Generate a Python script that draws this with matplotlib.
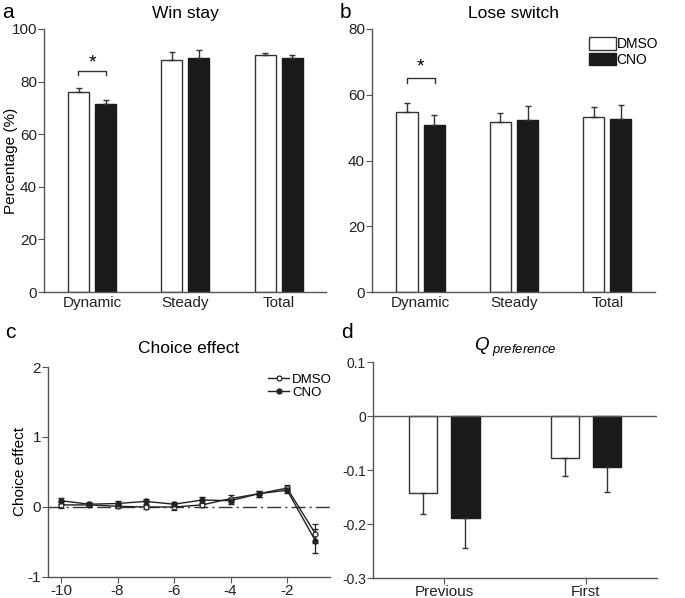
import numpy as np
import matplotlib
matplotlib.use("Agg")
import matplotlib.pyplot as plt
from matplotlib.patches import Patch
from matplotlib.lines import Line2D

plt.rcParams["font.family"] = ["Liberation Sans", "DejaVu Sans"]
plt.rcParams["mathtext.fontset"] = "custom"
plt.rcParams["mathtext.it"] = "Liberation Sans:italic"
plt.rcParams["mathtext.rm"] = "Liberation Sans"

# ---------------------------------------------------------------------------
# data
# ---------------------------------------------------------------------------
groups = ["Dynamic", "Steady", "Total"]

win_dmso = [76.0, 88.2, 90.0]
win_dmso_err = [1.5, 3.0, 0.7]
win_cno = [71.6, 89.0, 89.1]
win_cno_err = [1.3, 3.2, 1.2]

lose_dmso = [54.8, 51.6, 53.3]
lose_dmso_err = [2.6, 2.7, 3.0]
lose_cno = [50.8, 52.2, 52.7]
lose_cno_err = [2.9, 4.4, 4.1]

lags = [-10, -9, -8, -7, -6, -5, -4, -3, -2, -1]
choice_dmso = [0.03, 0.03, 0.01, 0.00, 0.00, 0.03, 0.12, 0.19, 0.27, -0.38]
choice_dmso_err = [0.04, 0.03, 0.03, 0.03, 0.04, 0.03, 0.05, 0.04, 0.04, 0.14]
choice_cno = [0.09, 0.04, 0.05, 0.08, 0.04, 0.10, 0.09, 0.19, 0.24, -0.48]
choice_cno_err = [0.04, 0.03, 0.04, 0.04, 0.03, 0.04, 0.04, 0.04, 0.04, 0.17]

q_groups = ["Previous", "First"]
q_dmso = [-0.142, -0.077]
q_dmso_err = [0.040, 0.034]
q_cno = [-0.188, -0.094]
q_cno_err = [0.057, 0.047]

W, H = 685, 598
fig = plt.figure(figsize=(W / 100, H / 100), dpi=100)


def px_axes(x0, y0, x1, y1):
    """Axes from pixel box (left, top, right, bottom)."""
    return fig.add_axes([x0 / W, (H - y1) / H, (x1 - x0) / W, (y1 - y0) / H])


SPINE = "#555555"
INK = "#222222"


def style(ax):
    for s in ("top", "right"):
        ax.spines[s].set_visible(False)
    for s in ("left", "bottom"):
        ax.spines[s].set_color(SPINE)
        ax.spines[s].set_linewidth(1.0)
    ax.tick_params(labelcolor=INK, labelsize=11, direction="out", length=4,
                   width=0.8, color=SPINE, pad=1)


def bar_panel(ax, dmso, dmso_err, cno, cno_err, ylim, yticks, title):
    x = np.arange(len(groups))
    off, w = 0.145, 0.226
    ax.bar(x - off, dmso, w, color="white", edgecolor="#333333", linewidth=1.0)
    ax.bar(x + off, cno, w, color="#1a1a1a", edgecolor="#1a1a1a", linewidth=1.0)
    ax.errorbar(x - off, dmso, yerr=[np.zeros(3), dmso_err], fmt="none",
                ecolor="#333333", elinewidth=1.0, capsize=2.5, capthick=1.0)
    ax.errorbar(x + off, cno, yerr=[np.zeros(3), cno_err], fmt="none",
                ecolor="#333333", elinewidth=1.0, capsize=2.5, capthick=1.0)
    ax.set_xlim(-0.52, 2.51)
    ax.set_ylim(*ylim)
    ax.set_yticks(yticks)
    ax.set_xticks(x)
    ax.set_xticklabels(groups)
    ax.set_title(title, fontsize=12.5, pad=8)
    style(ax)
    ax.tick_params(axis="x", length=0, pad=3)


def sig(ax, x0, x1, y, drop, star_y):
    ax.plot([x0, x0, x1, x1], [y - drop, y, y, y - drop], color="#333333", lw=1.0)
    ax.text((x0 + x1) / 2, star_y, "*", ha="center", va="center", fontsize=14)


# ---------------------------------------------------------------------------
# a: Win stay
# ---------------------------------------------------------------------------
ax_a = px_axes(44, 29, 326, 292)
bar_panel(ax_a, win_dmso, win_dmso_err, win_cno, win_cno_err,
          (0, 100), [0, 20, 40, 60, 80, 100], "Win stay")
sig(ax_a, -0.15, 0.15, 84, 1.5, 87)
ax_a.set_ylabel("Percentage (%)", fontsize=11)
ax_a.yaxis.set_label_coords(-0.092, 0.5)

# ---------------------------------------------------------------------------
# b: Lose switch
# ---------------------------------------------------------------------------
ax_b = px_axes(372, 29, 655, 292)
bar_panel(ax_b, lose_dmso, lose_dmso_err, lose_cno, lose_cno_err,
          (0, 80), [0, 20, 40, 60, 80], "Lose switch")
sig(ax_b, -0.15, 0.15, 65, 1.5, 68.5)
bar_handles = [Patch(facecolor="white", edgecolor="#333333", lw=1.0),
               Patch(facecolor="#1a1a1a", edgecolor="#1a1a1a", lw=1.0)]
ax_b.legend(bar_handles, ["DMSO", "CNO"], loc="upper right",
            bbox_to_anchor=(1.04, 1.0), frameon=False, fontsize=10,
            handlelength=1.9, handleheight=1.0, handletextpad=0.05,
            labelspacing=0.1, borderaxespad=0.2)

# ---------------------------------------------------------------------------
# c: Choice effect
# ---------------------------------------------------------------------------
ax_c = px_axes(48, 367, 330, 577)
ax_c.axhline(0, color="#333333", lw=1.0, ls=(0, (10, 3, 1.5, 3)))
ax_c.errorbar(lags, choice_dmso, yerr=choice_dmso_err, color=INK,
              lw=1.0, marker="o", ms=3.5, mfc="white", mec=INK,
              mew=0.9, capsize=2.5, elinewidth=0.9)
ax_c.errorbar(lags, choice_cno, yerr=choice_cno_err, color=INK,
              lw=1.0, marker="o", ms=3.5, mfc=INK, mec=INK,
              capsize=2.5, elinewidth=0.9)
ax_c.set_xlim(-10.46, -0.48)
ax_c.set_ylim(-1, 2)
ax_c.set_xticks([-10, -8, -6, -4, -2])
ax_c.set_yticks([-1, 0, 1, 2])
ax_c.set_xticklabels(["-10", "-8", "-6", "-4", "-2"])
ax_c.set_yticklabels(["-1", "0", "1", "2"])
ax_c.set_title("Choice effect", fontsize=12.5, pad=10)
ax_c.set_ylabel("Choice effect", fontsize=11)
ax_c.yaxis.set_label_coords(-0.075, 0.5)
style(ax_c)
ax_c.tick_params(axis="x", pad=1)
line_handles = [Line2D([], [], color=INK, lw=1.0, marker="o", ms=3.5,
                       mfc="white", mec=INK, mew=0.9),
                Line2D([], [], color=INK, lw=1.0, marker="o", ms=3.5,
                       mfc=INK, mec=INK)]
ax_c.legend(line_handles, ["DMSO", "CNO"], loc="upper right",
            bbox_to_anchor=(1.03, 1.0), frameon=False, fontsize=9.5,
            handlelength=1.6, handletextpad=0.2, labelspacing=0.05,
            borderaxespad=0.1)

# ---------------------------------------------------------------------------
# d: Q preference
# ---------------------------------------------------------------------------
ax_d = px_axes(373, 362, 657, 578)
xd = np.arange(len(q_groups))
ax_d.bar(xd - 0.15, q_dmso, 0.2, color="white", edgecolor="#333333", linewidth=1.0)
ax_d.bar(xd + 0.15, q_cno, 0.2, color="#1a1a1a", edgecolor="#1a1a1a", linewidth=1.0)
ax_d.errorbar(xd - 0.15, q_dmso, yerr=[q_dmso_err, np.zeros(2)], fmt="none",
              ecolor="#333333", elinewidth=1.0, capsize=2.5, capthick=1.0)
ax_d.errorbar(xd + 0.15, q_cno, yerr=[q_cno_err, np.zeros(2)], fmt="none",
              ecolor="#333333", elinewidth=1.0, capsize=2.5, capthick=1.0)
ax_d.axhline(0, color=SPINE, lw=1.0)
ax_d.set_xlim(-0.5, 1.5)
ax_d.set_ylim(-0.3, 0.1)
ax_d.set_yticks([-0.3, -0.2, -0.1, 0, 0.1])
ax_d.set_yticklabels(["-0.3", "-0.2", "-0.1", "0", "0.1"])
ax_d.set_xticks(xd)
ax_d.set_xticklabels(q_groups)
ax_d.set_title(r"$Q_{\ preference}$", fontsize=13.5, pad=8)
style(ax_d)
ax_d.tick_params(axis="y", labelsize=10)
ax_d.tick_params(axis="x", pad=1)

# panel letters
for lbl, (x, y) in zip("abcd", [(2, 13), (340, 13), (5, 333), (341, 333)]):
    fig.text(x / W, 1 - y / H, lbl, fontsize=15, ha="left", va="center")

fig.savefig("out.png", dpi=100)
